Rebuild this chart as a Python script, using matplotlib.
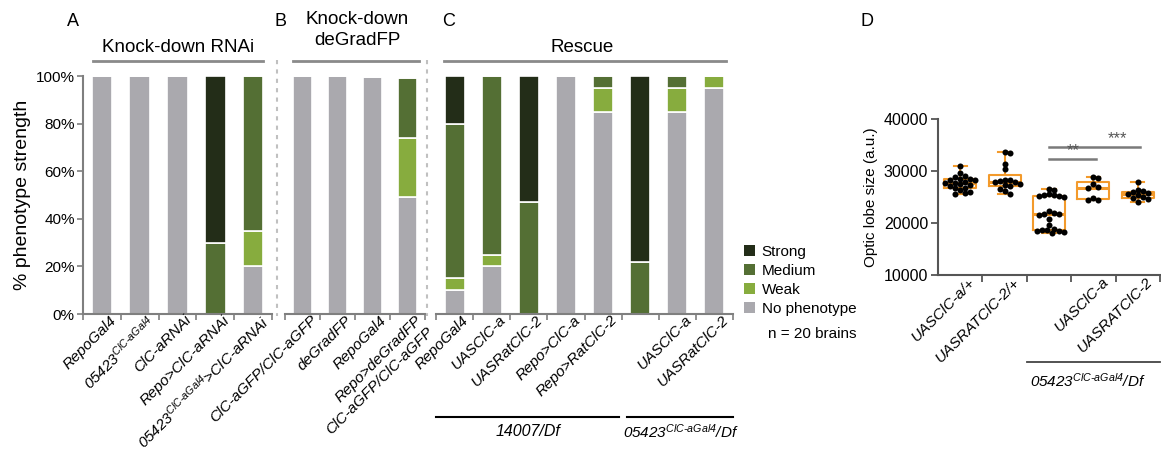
import numpy as np
import matplotlib
matplotlib.use('Agg')
import matplotlib.pyplot as plt
import matplotlib.transforms as mtransforms
from matplotlib.patches import Patch
from matplotlib.lines import Line2D

plt.rcParams['font.family'] = ['Liberation Sans', 'DejaVu Sans']
# every math label here is a genotype, so set all math text in italic
plt.rcParams['mathtext.fontset'] = 'custom'
plt.rcParams['mathtext.rm'] = 'Liberation Sans:italic'
plt.rcParams['mathtext.it'] = 'Liberation Sans:italic'
plt.rcParams['mathtext.bf'] = 'Liberation Sans:bold'

SUP = r'^{\mathit{ClC}\text{-}\mathit{aGal4}}'
ALLELE = r'\mathit{05423}' + SUP

# phenotype classes, stacked from the bottom up
classes = ['No phenotype', 'Weak', 'Medium', 'Strong']
class_colors = ['#aaa9ae', '#87ac3e', '#546f34', '#232d18']

# A: knock-down RNAi
labels_a = ['RepoGal4', '$' + ALLELE + '$', 'ClC-aRNAi', 'Repo>ClC-aRNAi',
            '$' + ALLELE + r'\text{>}\mathit{ClC}\text{-}\mathit{aRNAi}$']
none_a = [100, 100, 100, 0, 20]
weak_a = [0, 0, 0, 0, 15]
medium_a = [0, 0, 0, 30, 65]
strong_a = [0, 0, 0, 70, 0]

# B: knock-down deGradFP
labels_b = ['ClC-aGFP/ClC-aGFP', 'deGradFP', 'RepoGal4',
            'Repo>deGradFP\nClC-aGFP/ClC-aGFP']
none_b = [100, 100, 99.5, 49]
weak_b = [0, 0, 0, 25]
medium_b = [0, 0, 0, 25]
strong_b = [0, 0, 0, 0]

# C: rescue
labels_c = ['RepoGal4', 'UASClC-a', 'UASRatClC-2', 'Repo>ClC-a', 'Repo>RatClC-2',
            '', 'UASClC-a', 'UASRatClC-2']
none_c = [10, 20, 0, 100, 85, 0, 85, 95]
weak_c = [5, 5, 0, 0, 10, 0, 10, 5]
medium_c = [65, 75, 47, 0, 5, 22, 5, 0]
strong_c = [20, 0, 53, 0, 0, 78, 0, 0]

# D: optic lobe size per brain
labels_d = ['UASClC-a/+', 'UASRATClC-2/+', '', 'UASClC-a', 'UASRATClC-2']
lobe_ctrl_a = [31000, 29700, 29000, 28900, 28500, 28400, 28300, 28200, 27900, 27700,
               27600, 27500, 27400, 27200, 26800, 26700, 26300, 26000, 25800, 25500]
lobe_ctrl_rat = [33600, 33400, 31400, 30300, 28300, 28200, 28100, 27900, 27800,
                 27500, 27300, 27100, 26600, 26100, 25500]
lobe_mutant = [26500, 26400, 25500, 25400, 25300, 25200, 25100, 25000, 22300, 22000,
               21800, 21700, 21500, 20800, 19600, 18900, 18700, 18600, 18500, 18400,
               18200, 18000]
lobe_res_a = [28900, 28700, 27500, 26900, 26700, 24800, 24400, 24400]
lobe_res_rat = [27900, 26400, 26200, 25900, 25700, 25500, 25300, 25000, 24800,
                24700, 24100]
lobe_data = [lobe_ctrl_a, lobe_ctrl_rat, lobe_mutant, lobe_res_a, lobe_res_rat]
sig_pairs = [(2, 3, 32400, '**'), (2, 4, 34700, '***')]

W, H = 1161, 450
fig = plt.figure(figsize=(W / 100, H / 100), dpi=100)


def fx(px):
    return px / W


def fy(py):
    return 1 - py / H


def px_axes(x0, x1, y0, y1):
    return fig.add_axes([fx(x0), fy(y1), (x1 - x0) / W, (y1 - y0) / H])


AXC = '#7f7f7f'


def rot_labels(ax, labels, dx, dy, size):
    tr = mtransforms.blended_transform_factory(ax.transData, ax.transAxes)
    tr = tr + mtransforms.ScaledTranslation(dx / 100, dy / 100, fig.dpi_scale_trans)
    for i, lab in enumerate(labels):
        if lab:
            ax.text(i, 0, lab, transform=tr, rotation=45, ha='right', va='top',
                    rotation_mode='anchor', fontsize=size, style='italic')


def stacked(ax, labels, layers, width, show_y=False):
    n = len(labels)
    x = np.arange(n)
    bottom = np.zeros(n)
    for vals, col in zip(layers, class_colors):
        vals = np.array(vals, dtype=float)
        ax.bar(x, vals, width, bottom=bottom, color=col, edgecolor='white', linewidth=1.2)
        bottom += vals
    ax.set_xlim(-0.5, n - 0.5)
    ax.set_ylim(0, 100)
    for s in ['top', 'right']:
        ax.spines[s].set_visible(False)
    ax.spines['bottom'].set_color(AXC)
    ax.spines['bottom'].set_linewidth(1.5)
    ax.set_xticks(np.arange(n + 1) - 0.5)
    ax.set_xticklabels([])
    ax.tick_params(axis='x', length=4, width=1.2, color=AXC)
    if show_y:
        ax.spines['left'].set_color(AXC)
        ax.spines['left'].set_linewidth(1.5)
        ax.set_yticks(range(0, 101, 20))
        ax.set_yticklabels([f'{v}%' for v in range(0, 101, 20)], fontsize=11)
        ax.tick_params(axis='y', length=4, width=1.2, color=AXC, pad=2)
        ax.set_ylabel('% phenotype strength', fontsize=14, labelpad=3)
    else:
        ax.spines['left'].set_visible(False)
        ax.set_yticks([])
    rot_labels(ax, labels, 7, 1, 11)


ax_a = px_axes(83, 272, 76, 314)
stacked(ax_a, labels_a, [none_a, weak_a, medium_a, strong_a], 0.55, show_y=True)
ax_b = px_axes(285, 425, 76, 314)
stacked(ax_b, labels_b, [none_b, weak_b, medium_b, strong_b], 0.53)
ax_c = px_axes(436, 733, 76, 314)
stacked(ax_c, labels_c, [none_c, weak_c, medium_c, strong_c], 0.54)

# group headers with rules beneath
fig.text(fx(178), fy(47), 'Knock-down RNAi', fontsize=13.5, ha='center', va='center')
fig.text(fx(357), fy(30), 'Knock-down\ndeGradFP', fontsize=13.5, ha='center', va='center',
         linespacing=1.25)
fig.text(fx(582), fy(47), 'Rescue', fontsize=13.5, ha='center', va='center')
for x0, x1 in [(93, 263), (293, 419), (444, 726)]:
    fig.add_artist(Line2D([fx(x0), fx(x1)], [fy(61), fy(61)], color='#8a8a8a', lw=2))

# dotted separators between panels
for xs in [277, 427]:
    fig.add_artist(Line2D([fx(xs), fx(xs)], [fy(60), fy(316)], color='#c0c0c0', lw=1.5,
                          linestyle=(0, (2, 2.5))))

# panel letters
for lt, x in [('A', 73), ('B', 281), ('C', 449), ('D', 867)]:
    fig.text(fx(x), fy(21), lt, fontsize=13, ha='center', va='center')

# genotype backgrounds under panel C
for x0, x1 in [(436, 619), (627, 733)]:
    fig.add_artist(Line2D([fx(x0), fx(x1)], [fy(417), fy(417)], color='black', lw=1.5))
fig.text(fx(528), fy(432), '14007/Df', fontsize=11.5, style='italic', ha='center', va='center')
fig.text(fx(681), fy(432), '$' + ALLELE + r'\text{/}\mathit{Df}$', fontsize=11,
         ha='center', va='center')

# legend
handles = [Patch(facecolor=c, edgecolor='none') for c in class_colors[::-1]]
fig.legend(handles, classes[::-1], loc='upper left', bbox_to_anchor=(fx(744), fy(245)),
           frameon=False, fontsize=11, handlelength=0.75, handleheight=0.75,
           handletextpad=0.4, labelspacing=0.33, borderpad=0, borderaxespad=0)
fig.text(fx(768), fy(334), 'n = 20 brains', fontsize=11, ha='left', va='center')

# D: box plots with swarmed points
ax_d = px_axes(938, 1160, 119, 275)
orange = '#f39a2b'
ax_d.boxplot(lobe_data, positions=range(5), widths=0.72, whis=(0, 100), showfliers=False,
             boxprops=dict(color=orange, lw=1.5),
             whiskerprops=dict(color=orange, lw=1.5),
             capprops=dict(color=orange, lw=1.5),
             medianprops=dict(color=orange, lw=2.2),
             capwidths=0.3)

ax_d.set_xlim(-0.5, 4.5)
ax_d.set_ylim(10000, 40000)
x_px = 222 / 5
y_px = 156 / 30000
dot = 5.0


def swarm(vals):
    order = np.argsort(vals)[::-1]
    placed = []
    offs = np.zeros(len(vals))
    for idx in order:
        y = vals[idx] * y_px
        for k in range(0, 40):
            cand = (k + 1) // 2 * (1 if k % 2 else -1) * dot * 0.5
            if all((cand - px) ** 2 + (y - py) ** 2 >= dot ** 2 for px, py in placed):
                break
        placed.append((cand, y))
        offs[idx] = cand / x_px
    return offs


for i, vals in enumerate(lobe_data):
    vals = np.array(vals, dtype=float)
    ax_d.scatter(i + swarm(vals), vals, s=19, color='black', zorder=3, linewidths=0)

for i0, i1, h, stars in sig_pairs:
    ax_d.plot([i0, i1 + 0.05], [h, h], color='#7a7a7a', lw=1.8)
    ax_d.text(i1 - 0.45, h + 100, stars, ha='center', va='bottom', fontsize=12,
              color='#555555')

for s in ['top', 'right']:
    ax_d.spines[s].set_visible(False)
for s in ['left', 'bottom']:
    ax_d.spines[s].set_color('#555555')
    ax_d.spines[s].set_linewidth(1.5)
ax_d.set_yticks(range(10000, 40001, 10000))
ax_d.tick_params(axis='y', labelsize=11.5, length=5, width=1.3, color='#555555', pad=2)
ax_d.set_xticks(np.arange(5) + 0.5)
ax_d.set_xticklabels([])
ax_d.tick_params(axis='x', length=5, width=1.3, color='#555555')
ax_d.set_ylabel('Optic lobe size (a.u.)', fontsize=11, labelpad=4)
rot_labels(ax_d, labels_d, 8, 0, 11)

fig.add_artist(Line2D([fx(1027), fx(1160)], [fy(362), fy(362)], color='#444444', lw=1.3))
fig.text(fx(1030), fy(381), '$' + ALLELE + r'\text{/}\mathit{Df}$', fontsize=11,
         ha='left', va='center')

fig.savefig('out.png', dpi=100)
